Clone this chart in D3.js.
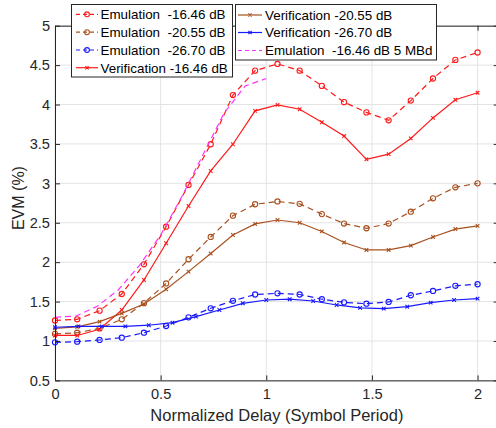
<!DOCTYPE html>
<html>
<head>
<meta charset="utf-8">
<script src="https://cdn.jsdelivr.net/npm/d3@7"></script>
<style>
  html, body { margin: 0; padding: 0; background: #fff; }
  svg { display: block; font-family: "Liberation Sans", Arial, Helvetica, sans-serif; }
  text { white-space: pre; }
</style>
</head>
<body>
<svg id="chart" width="496" height="428"></svg>
<script>
// ---------- data ----------
const xEmu = [0, 0.105, 0.211, 0.316, 0.421, 0.526, 0.632, 0.737, 0.842, 0.947,
              1.053, 1.158, 1.263, 1.368, 1.474, 1.579, 1.684, 1.789, 1.895, 2.0];
const xVer26 = [0, 0.111, 0.222, 0.333, 0.444, 0.556, 0.667, 0.778, 0.889, 1.0,
                1.111, 1.222, 1.333, 1.444, 1.556, 1.667, 1.778, 1.889, 2.0];
const x5MBd = [0, 0.1, 0.2, 0.3, 0.4, 0.5, 0.6, 0.7, 0.8, 0.9, 1.0];

const emul1646 = [1.26, 1.275, 1.385, 1.596, 1.973, 2.45, 2.98, 3.496, 4.12, 4.43,
                  4.515, 4.43, 4.236, 4.03, 3.90, 3.80, 4.05, 4.33, 4.566, 4.66];
const emul2055 = [1.09, 1.105, 1.16, 1.275, 1.48, 1.73, 2.037, 2.32, 2.59, 2.735,
                  2.77, 2.74, 2.61, 2.49, 2.43, 2.49, 2.64, 2.81, 2.95, 3.0];
const emul2670 = [0.983, 0.991, 1.013, 1.042, 1.105, 1.19, 1.30, 1.415, 1.51, 1.59,
                  1.605, 1.59, 1.53, 1.49, 1.473, 1.495, 1.58, 1.635, 1.70, 1.72];
const verif1646 = [1.07, 1.07, 1.148, 1.393, 1.774, 2.24, 2.713, 3.157, 3.496, 3.92,
                   3.995, 3.94, 3.775, 3.60, 3.305, 3.37, 3.57, 3.83, 4.06, 4.15];
const verif2055 = [1.16, 1.18, 1.245, 1.35, 1.47, 1.656, 1.88, 2.11, 2.345, 2.485,
                   2.535, 2.50, 2.39, 2.25, 2.155, 2.155, 2.21, 2.32, 2.42, 2.46];
const verif2670 = [1.174, 1.186, 1.186, 1.186, 1.20, 1.232, 1.309, 1.393, 1.478, 1.52,
                   1.53, 1.507, 1.457, 1.42, 1.41, 1.435, 1.486, 1.52, 1.537];
const emul1646_5MBd = [1.30, 1.317, 1.44, 1.65, 1.96, 2.345, 2.83, 3.36, 3.89, 4.235, 4.33];

const seriesNames = ["Emulation  -16.46 dB", "Emulation  -20.55 dB", "Emulation  -26.70 dB",
                     "Verification -16.46 dB", "Verification -20.55 dB", "Verification -26.70 dB",
                     "Emulation  -16.46 dB 5 MBd"];
const xTicks = [0, 0.5, 1, 1.5, 2];
const yTicks = [0.5, 1, 1.5, 2, 2.5, 3, 3.5, 4, 4.5, 5];
const xLabel = "Normalized Delay (Symbol Period)";
const yLabel = "EVM (%)";

const RED = "#ff1a1a", BROWN = "#a9501f", BLUE = "#1a1aff", MAG = "#ff33ff";

const series = [
  { name: seriesNames[0], x: xEmu, y: emul1646, color: RED, dash: "6,4", marker: "o" },
  { name: seriesNames[1], x: xEmu, y: emul2055, color: BROWN, dash: "6,4", marker: "o" },
  { name: seriesNames[2], x: xEmu, y: emul2670, color: BLUE, dash: "6,4", marker: "o" },
  { name: seriesNames[3], x: xEmu, y: verif1646, color: RED, dash: null, marker: "x" },
  { name: seriesNames[4], x: xEmu, y: verif2055, color: BROWN, dash: null, marker: "x" },
  { name: seriesNames[5], x: xVer26, y: verif2670, color: BLUE, dash: null, marker: "x" },
  { name: seriesNames[6], x: x5MBd, y: emul1646_5MBd, color: MAG, dash: "6,4", marker: null }
];

// ---------- layout ----------
const svg = d3.select("#chart");
const L = 55, R = 498.7, T = 25.7, B = 380.4;
const x = d3.scaleLinear().domain([0, 2.1]).range([L, R]);
const y = d3.scaleLinear().domain([0.5, 5]).range([B, T]);
const AX = "#262626";

// grid
const grid = svg.append("g");
grid.selectAll("line.gx").data(xTicks).join("line")
  .attr("x1", d => x(d)).attr("x2", d => x(d)).attr("y1", T).attr("y2", B)
  .attr("stroke", "#e3e3e3").attr("stroke-width", 1);
grid.selectAll("line.gy").data(yTicks).join("line")
  .attr("x1", L).attr("x2", R).attr("y1", d => y(d)).attr("y2", d => y(d))
  .attr("stroke", "#e3e3e3").attr("stroke-width", 1);

// axes
const fontTick = "14.6px";
const xAxisB = d3.axisBottom(x).tickValues(xTicks).tickSizeInner(-5).tickSizeOuter(0).tickPadding(8).tickFormat(d3.format("~g"));
const xAxisT = d3.axisTop(x).tickValues(xTicks).tickSizeInner(-5).tickSizeOuter(0).tickFormat("");
const yAxisL = d3.axisLeft(y).tickValues(yTicks).tickSizeInner(-5).tickSizeOuter(0).tickPadding(5).tickFormat(d3.format("~g"));
const yAxisR = d3.axisRight(y).tickValues(yTicks).tickSizeInner(-5).tickSizeOuter(0).tickFormat("");

function style(g) {
  g.selectAll(".domain").attr("stroke", AX).attr("stroke-width", 1);
  g.selectAll(".tick line").attr("stroke", AX).attr("stroke-width", 1);
  g.selectAll(".tick text").attr("fill", AX).style("font-size", fontTick)
    .style("font-family", "'Liberation Sans', Arial, sans-serif");
}

// plot lines
const plot = svg.append("g");
const lineGen = d3.line().x(d => x(d[0])).y(d => y(d[1]));
series.forEach(s => {
  const pts = s.x.map((xv, i) => [xv, s.y[i]]);
  plot.append("path").attr("d", lineGen(pts))
    .attr("fill", "none").attr("stroke", s.color).attr("stroke-width", 1.2)
    .attr("stroke-dasharray", s.dash);
  if (s.marker === "o") {
    plot.selectAll(null).data(pts).join("circle")
      .attr("cx", d => x(d[0])).attr("cy", d => y(d[1])).attr("r", 2.6)
      .attr("fill", "none").attr("stroke", s.color).attr("stroke-width", 1.1);
  } else if (s.marker === "x") {
    const k = 1.8;
    plot.selectAll(null).data(pts).join("path")
      .attr("d", d => { const cx = x(d[0]), cy = y(d[1]);
        return `M${cx-k},${cy-k}L${cx+k},${cy+k}M${cx-k},${cy+k}L${cx+k},${cy-k}`; })
      .attr("stroke", s.color).attr("stroke-width", 1.1);
  }
});

svg.append("g").attr("transform", `translate(0,${B})`).call(xAxisB).call(style);
svg.append("g").attr("transform", `translate(0,${T})`).call(xAxisT).call(style);
svg.append("g").attr("transform", `translate(${L},0)`).call(yAxisL).call(style);
svg.append("g").attr("transform", `translate(${R},0)`).call(yAxisR).call(style);

// axis labels
svg.append("text").attr("x", (L + R) / 2).attr("y", 421)
  .attr("text-anchor", "middle").attr("fill", AX).style("font-size", "16.5px").text(xLabel);
svg.append("text").attr("transform", `translate(24,${(T + B) / 2 - 5}) rotate(-90)`)
  .attr("text-anchor", "middle").attr("fill", AX).style("font-size", "16px").text(yLabel);

// legends
function legend(items, bx, by, bw, bh, sx1, sx2, tx, rows) {
  const g = svg.append("g");
  g.append("rect").attr("x", bx).attr("y", by).attr("width", bw).attr("height", bh)
    .attr("fill", "#fff").attr("stroke", AX).attr("stroke-width", 1);
  items.forEach((s, i) => {
    const cy = rows[i];
    g.append("line").attr("x1", sx1).attr("x2", sx2).attr("y1", cy).attr("y2", cy)
      .attr("stroke", s.color).attr("stroke-width", 1.2).attr("stroke-dasharray", s.dash ? "4,3" : null);
    const mx = (sx1 + sx2) / 2;
    if (s.marker === "o") {
      g.append("circle").attr("cx", mx).attr("cy", cy).attr("r", 2.4)
        .attr("fill", "none").attr("stroke", s.color).attr("stroke-width", 1.1);
    } else if (s.marker === "x") {
      const k = 1.6;
      g.append("path").attr("d", `M${mx-k},${cy-k}L${mx+k},${cy+k}M${mx-k},${cy+k}L${mx+k},${cy-k}`)
        .attr("stroke", s.color).attr("stroke-width", 1.1);
    }
    g.append("text").attr("x", tx).attr("y", cy).attr("dy", "0.36em")
      .attr("fill", "#000").style("font-size", "13.4px").text(s.name);
  });
}
legend(series.slice(0, 4), 71.5, 4.5, 161, 72.5, 76, 98, 100.5, [14.3, 32.2, 50, 67.7]);
legend(series.slice(4, 7), 235.5, 4.5, 201, 55.5, 238, 262, 265, [15, 32.5, 50.5]);
</script>
</body>
</html>
